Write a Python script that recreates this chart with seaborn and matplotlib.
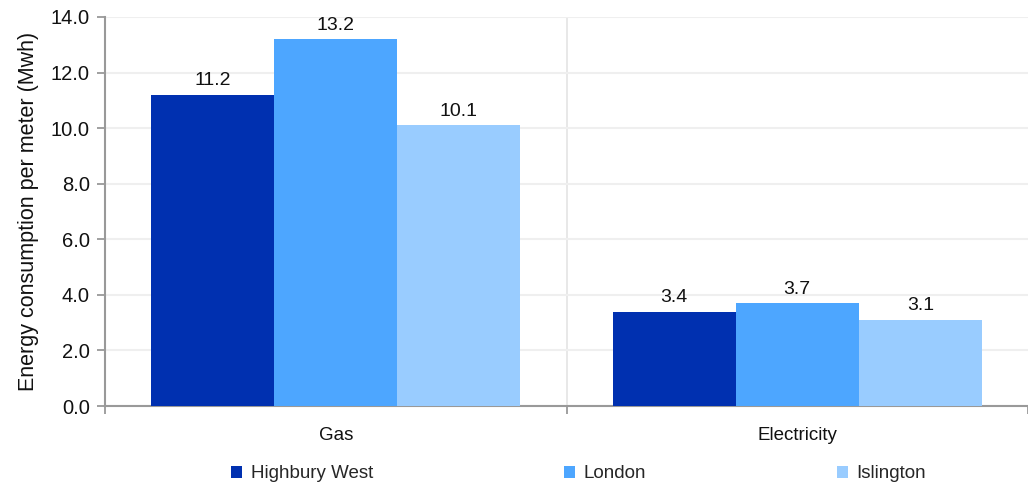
import numpy as np
import pandas as pd
import matplotlib
matplotlib.use('Agg')
import matplotlib.pyplot as plt
from matplotlib.patches import Patch
import seaborn as sns

# Données du graphique
categories = ['Gas', 'Electricity']
zones = ['Highbury West', 'London', 'Islington']
highbury_west = [11.2, 3.4]
london = [13.2, 3.7]
islington = [10.1, 3.1]
couleurs = ['#0030B0', '#4DA6FF', '#99CCFF']
yticks = [0, 2, 4, 6, 8, 10, 12, 14]

df = pd.DataFrame({
    'type': categories * 3,
    'zone': np.repeat(zones, len(categories)),
    'valeur': highbury_west + london + islington,
})

sns.set_style('white')
plt.rcParams['font.family'] = ['Liberation Sans', 'DejaVu Sans']
gris = '#999999'
noir = '#111111'

fig = plt.figure(figsize=(10.28, 4.84), dpi=100)
ax = fig.add_axes([105 / 1028, 1 - 406 / 484, 923 / 1028, 389 / 484])

sns.barplot(data=df, x='type', y='valeur', hue='zone', hue_order=zones,
            palette=couleurs, saturation=1, width=0.8, ax=ax, legend=False,
            linewidth=0, zorder=3)

# Étiquettes de valeur au-dessus des barres
for cont in ax.containers:
    ax.bar_label(cont, fmt='%.1f', padding=4, fontsize=14, color=noir)

ax.set_xlim(-0.5, 1.5)
ax.set_ylim(0, 14)
ax.set_yticks(yticks)
ax.set_yticklabels([f'{v:.1f}' for v in yticks])

# Grilles
ax.set_axisbelow(True)
ax.yaxis.grid(True, color='#efefef', lw=1.5, zorder=0)
ax.xaxis.grid(False)
ax.axvline(0.5, color='#e6e6e6', lw=1.3, zorder=0)

# Axes et graduations
for s in ['top', 'right']:
    ax.spines[s].set_visible(False)
for s in ['left', 'bottom']:
    ax.spines[s].set_color(gris)
    ax.spines[s].set_linewidth(1.5)

ax.tick_params(axis='y', left=True, length=6, width=1.3, color=gris, pad=5,
               labelsize=14.5, labelcolor=noir)
ax.set_xticks([0, 1])
ax.set_xticklabels(categories)
ax.set_xticks([-0.5, 0.5, 1.5], minor=True)
ax.tick_params(axis='x', which='major', length=0, pad=15, labelsize=13.5,
               labelcolor=noir)
ax.tick_params(axis='x', which='minor', bottom=True, length=6, width=1.3,
               color=gris)

ax.set_xlabel('')
ax.set_ylabel('Energy consumption per meter (Mwh)', fontsize=15.5,
              color=noir)
ax.yaxis.set_label_coords(-0.072, 0.5)

# Légende en bas
handles = [Patch(facecolor=c, edgecolor='none') for c in couleurs]
fig.legend(handles, zones, loc='center',
           bbox_to_anchor=(231 / 1028, 1 - 474 / 484, 695 / 1028, 0),
           mode='expand', ncol=3, frameon=False, borderaxespad=0,
           borderpad=0, handlelength=0.6, handleheight=0.6,
           handletextpad=0.45, fontsize=13.5)

fig.savefig('out.png', dpi=100)
